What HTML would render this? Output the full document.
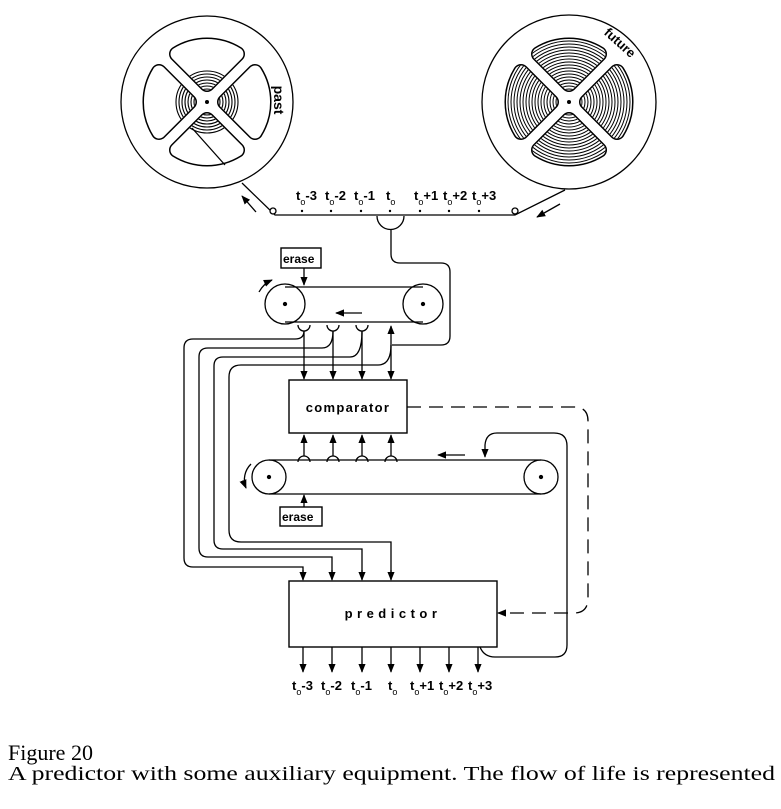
<!DOCTYPE html>
<html><head><meta charset="utf-8"><style>
html,body{margin:0;padding:0;background:#fff;}
svg{display:block;}
.b{font-family:"Liberation Sans",sans-serif;font-weight:bold;}
</style></head><body>
<svg width="781" height="809" viewBox="0 0 781 809" xmlns="http://www.w3.org/2000/svg">
<defs>
<marker id="ah" viewBox="0 0 10 10" refX="9" refY="5" markerWidth="7" markerHeight="7" orient="auto-start-reverse"><path d="M0,1 L10,5 L0,9 Z" fill="#000"/></marker>
<path id="win" d="M0,-18 L30,-48 A57,57 0 0 0 -30,-48 Z"/>
<g id="wins4">
<use href="#win"/><use href="#win" transform="rotate(90)"/><use href="#win" transform="rotate(180)"/><use href="#win" transform="rotate(270)"/>
</g>
<mask id="wm" maskUnits="userSpaceOnUse" x="-100" y="-100" width="200" height="200">
<use href="#wins4" fill="#fff" stroke="#fff" stroke-width="13" stroke-linejoin="round"/>
</mask>
</defs>
<g fill="none" stroke="#000" stroke-width="1.3">
<!-- left reel -->
<g transform="translate(207,102)">
<circle r="86"/>
<use href="#wins4" fill="#000" stroke="#000" stroke-width="16" stroke-linejoin="round"/>
<use href="#wins4" fill="#fff" stroke="#fff" stroke-width="13" stroke-linejoin="round"/>
<g mask="url(#wm)" stroke-width="1.1">
<circle r="13"/><circle r="16"/><circle r="19"/><circle r="22"/><circle r="25"/><circle r="28"/><circle r="31"/>
</g>
<circle r="2" fill="#000" stroke="none"/>
</g>
<line x1="192" y1="128" x2="225" y2="165"/>
<!-- right reel -->
<g transform="translate(569,102)">
<circle r="87"/>
<use href="#wins4" fill="#000" stroke="#000" stroke-width="16" stroke-linejoin="round"/>
<use href="#wins4" fill="#fff" stroke="#fff" stroke-width="13" stroke-linejoin="round"/>
<g mask="url(#wm)" stroke-width="1">
<circle r="13"/><circle r="16"/><circle r="19"/><circle r="22"/><circle r="25"/><circle r="28"/><circle r="31"/><circle r="34"/><circle r="37"/><circle r="40"/><circle r="43"/><circle r="46"/><circle r="49"/><circle r="52"/><circle r="55"/><circle r="58"/><circle r="61"/>
</g>
<circle r="2" fill="#000" stroke="none"/>
</g>
<!-- tape -->
<polyline points="242,183 275,215 515,215 565,190"/>
<circle cx="273" cy="211" r="3" fill="#fff"/>
<circle cx="515" cy="211" r="3" fill="#fff"/>
<line x1="256" y1="212" x2="242" y2="196" marker-end="url(#ah)"/>
<line x1="560" y1="204" x2="537" y2="217" marker-end="url(#ah)"/>
<!-- read head -->
<path d="M377,216 A13,13 0 0 0 404,216"/>
<path d="M391,229 L391,254 Q391,263 400,263 L441,263 Q450,263 450,272 L450,336 Q450,345 441,345 L392,345"/>
<!-- upper belt -->
<rect x="281" y="248" width="40" height="20" stroke-width="1.4"/>
<line x1="304" y1="268" x2="304" y2="285" marker-end="url(#ah)"/>
<circle cx="285" cy="304" r="20"/><circle cx="423" cy="304" r="20"/>
<line x1="285" y1="287" x2="423" y2="287"/><line x1="285" y1="322" x2="423" y2="322"/>
<circle cx="285" cy="304" r="1.5" fill="#000"/><circle cx="423" cy="304" r="1.5" fill="#000"/>
<line x1="362" y1="313" x2="336" y2="313" marker-end="url(#ah)"/>
<path d="M259,292 A27,27 0 0 1 272,280" marker-end="url(#ah)"/>
<!-- heads on upper belt -->
<path d="M298,325 A6,6 0 0 0 310,325"/><path d="M327,325 A6,6 0 0 0 339,325"/><path d="M356,325 A6,6 0 0 0 368,325"/>
<line x1="304" y1="331" x2="304" y2="379" marker-end="url(#ah)"/>
<line x1="333" y1="331" x2="333" y2="379" marker-end="url(#ah)"/>
<line x1="362" y1="331" x2="362" y2="379" marker-end="url(#ah)"/>
<line x1="391" y1="345" x2="391" y2="326" marker-end="url(#ah)"/>
<line x1="391" y1="345" x2="391" y2="379" marker-end="url(#ah)"/>
<!-- long wires -->
<path d="M304,331 Q304,339 295,339 L193,339 Q184,339 184,348 L184,558 Q184,567 193,567 L303,567 L303,579" />
<path d="M333,331 Q333,348 322,348 L208,348 Q199,348 199,357 L199,548 Q199,557 208,557 L332,557 L332,579"/>
<path d="M362,331 Q362,357 350,357 L223,357 Q214,357 214,366 L214,540 Q214,549 223,549 L362,549 L362,579"/>
<path d="M391,345 Q391,365 378,365 L241,365 Q229,365 229,377 L229,530 Q229,542 241,542 L391,542 L391,579"/>
<g>
<line x1="303" y1="570" x2="303" y2="580" marker-end="url(#ah)"/>
<line x1="332" y1="570" x2="332" y2="580" marker-end="url(#ah)"/>
<line x1="362" y1="570" x2="362" y2="580" marker-end="url(#ah)"/>
<line x1="391" y1="570" x2="391" y2="580" marker-end="url(#ah)"/>
</g>
<!-- comparator -->
<rect x="289" y="380" width="118" height="53" stroke-width="1.4"/>
<!-- lower belt heads -->
<path d="M298,462 A6,6 0 0 1 310,462"/><path d="M327,462 A6,6 0 0 1 339,462"/><path d="M356,462 A6,6 0 0 1 368,462"/><path d="M385,462 A6,6 0 0 1 397,462"/>
<line x1="304" y1="456" x2="304" y2="435" marker-end="url(#ah)"/>
<line x1="333" y1="456" x2="333" y2="435" marker-end="url(#ah)"/>
<line x1="362" y1="456" x2="362" y2="435" marker-end="url(#ah)"/>
<line x1="391" y1="456" x2="391" y2="435" marker-end="url(#ah)"/>
<!-- lower belt -->
<circle cx="269" cy="477" r="17"/><circle cx="541" cy="477" r="17"/>
<line x1="269" y1="460" x2="541" y2="460"/><line x1="269" y1="494" x2="541" y2="494"/>
<circle cx="269" cy="477" r="1.5" fill="#000"/><circle cx="541" cy="477" r="1.5" fill="#000"/>
<line x1="465" y1="455" x2="438" y2="455" marker-end="url(#ah)"/>
<path d="M251,464 A22,22 0 0 0 246,488" marker-end="url(#ah)"/>
<rect x="280" y="507" width="42" height="19" stroke-width="1.4"/>
<line x1="304" y1="507" x2="304" y2="495" marker-end="url(#ah)"/>
<!-- predictor feedback wire -->
<path d="M480,647 Q484,657 495,657 L555,657 Q567,657 567,645 L567,446 Q567,433 554,433 L497,433 Q486,433 485,445 L485,457" marker-end="url(#ah)"/>
<!-- dashed -->
<path d="M407,407 L574,407 Q588,407 588,421 L588,598 Q588,613 574,613 L498,613" stroke-dasharray="14,8" marker-end="url(#ah)"/>
<!-- predictor -->
<rect x="289" y="581" width="208" height="66" stroke-width="1.4"/>
<line x1="303" y1="647" x2="303" y2="672" marker-end="url(#ah)"/>
<line x1="332" y1="647" x2="332" y2="672" marker-end="url(#ah)"/>
<line x1="362" y1="647" x2="362" y2="672" marker-end="url(#ah)"/>
<line x1="391" y1="647" x2="391" y2="672" marker-end="url(#ah)"/>
<line x1="420" y1="647" x2="420" y2="672" marker-end="url(#ah)"/>
<line x1="449" y1="647" x2="449" y2="672" marker-end="url(#ah)"/>
<line x1="478" y1="647" x2="478" y2="672" marker-end="url(#ah)"/>
</g>
<!-- tape dots -->
<g fill="#000">
<circle cx="302" cy="211" r="1.2"/><circle cx="331" cy="211" r="1.2"/><circle cx="361" cy="211" r="1.2"/><circle cx="390" cy="211" r="1.2"/><circle cx="420" cy="211" r="1.2"/><circle cx="449" cy="211" r="1.2"/><circle cx="479" cy="211" r="1.2"/>
</g>
<g class="b" font-size="13">
<text x="296" y="200">t<tspan font-size="9" font-weight="normal" dy="5">o</tspan><tspan dy="-5">-3</tspan></text>
<text x="325" y="200">t<tspan font-size="9" font-weight="normal" dy="5">o</tspan><tspan dy="-5">-2</tspan></text>
<text x="354" y="200">t<tspan font-size="9" font-weight="normal" dy="5">o</tspan><tspan dy="-5">-1</tspan></text>
<text x="386" y="200">t<tspan font-size="9" font-weight="normal" dy="5">o</tspan></text>
<text x="414" y="200">t<tspan font-size="9" font-weight="normal" dy="5">o</tspan><tspan dy="-5">+1</tspan></text>
<text x="443" y="200">t<tspan font-size="9" font-weight="normal" dy="5">o</tspan><tspan dy="-5">+2</tspan></text>
<text x="472" y="200">t<tspan font-size="9" font-weight="normal" dy="5">o</tspan><tspan dy="-5">+3</tspan></text>

<text x="292" y="690">t<tspan font-size="9" font-weight="normal" dy="5">o</tspan><tspan dy="-5">-3</tspan></text>
<text x="321" y="690">t<tspan font-size="9" font-weight="normal" dy="5">o</tspan><tspan dy="-5">-2</tspan></text>
<text x="351" y="690">t<tspan font-size="9" font-weight="normal" dy="5">o</tspan><tspan dy="-5">-1</tspan></text>
<text x="388" y="690">t<tspan font-size="9" font-weight="normal" dy="5">o</tspan></text>
<text x="410" y="690">t<tspan font-size="9" font-weight="normal" dy="5">o</tspan><tspan dy="-5">+1</tspan></text>
<text x="439" y="690">t<tspan font-size="9" font-weight="normal" dy="5">o</tspan><tspan dy="-5">+2</tspan></text>
<text x="468" y="690">t<tspan font-size="9" font-weight="normal" dy="5">o</tspan><tspan dy="-5">+3</tspan></text>

<text x="283" y="263" font-size="12">erase</text>
<text x="282" y="521" font-size="12">erase</text>
<text x="348" y="412" font-size="13" text-anchor="middle" letter-spacing="1.3">comparator</text>
<text x="393" y="618" font-size="13" text-anchor="middle" letter-spacing="4.5">predictor</text>
<text transform="translate(274,100) rotate(90)" font-size="14" text-anchor="middle">past</text>
<text transform="translate(617,46) rotate(42)" font-size="13" text-anchor="middle">future</text>
</g>
<text x="8" y="760" font-family="Liberation Serif, serif" font-size="22">Figure 20</text>
<text x="8" y="780" font-family="Liberation Serif, serif" font-size="20" textLength="767" lengthAdjust="spacingAndGlyphs">A predictor with some auxiliary equipment. The flow of life is represented</text>
</svg>
</body></html>
